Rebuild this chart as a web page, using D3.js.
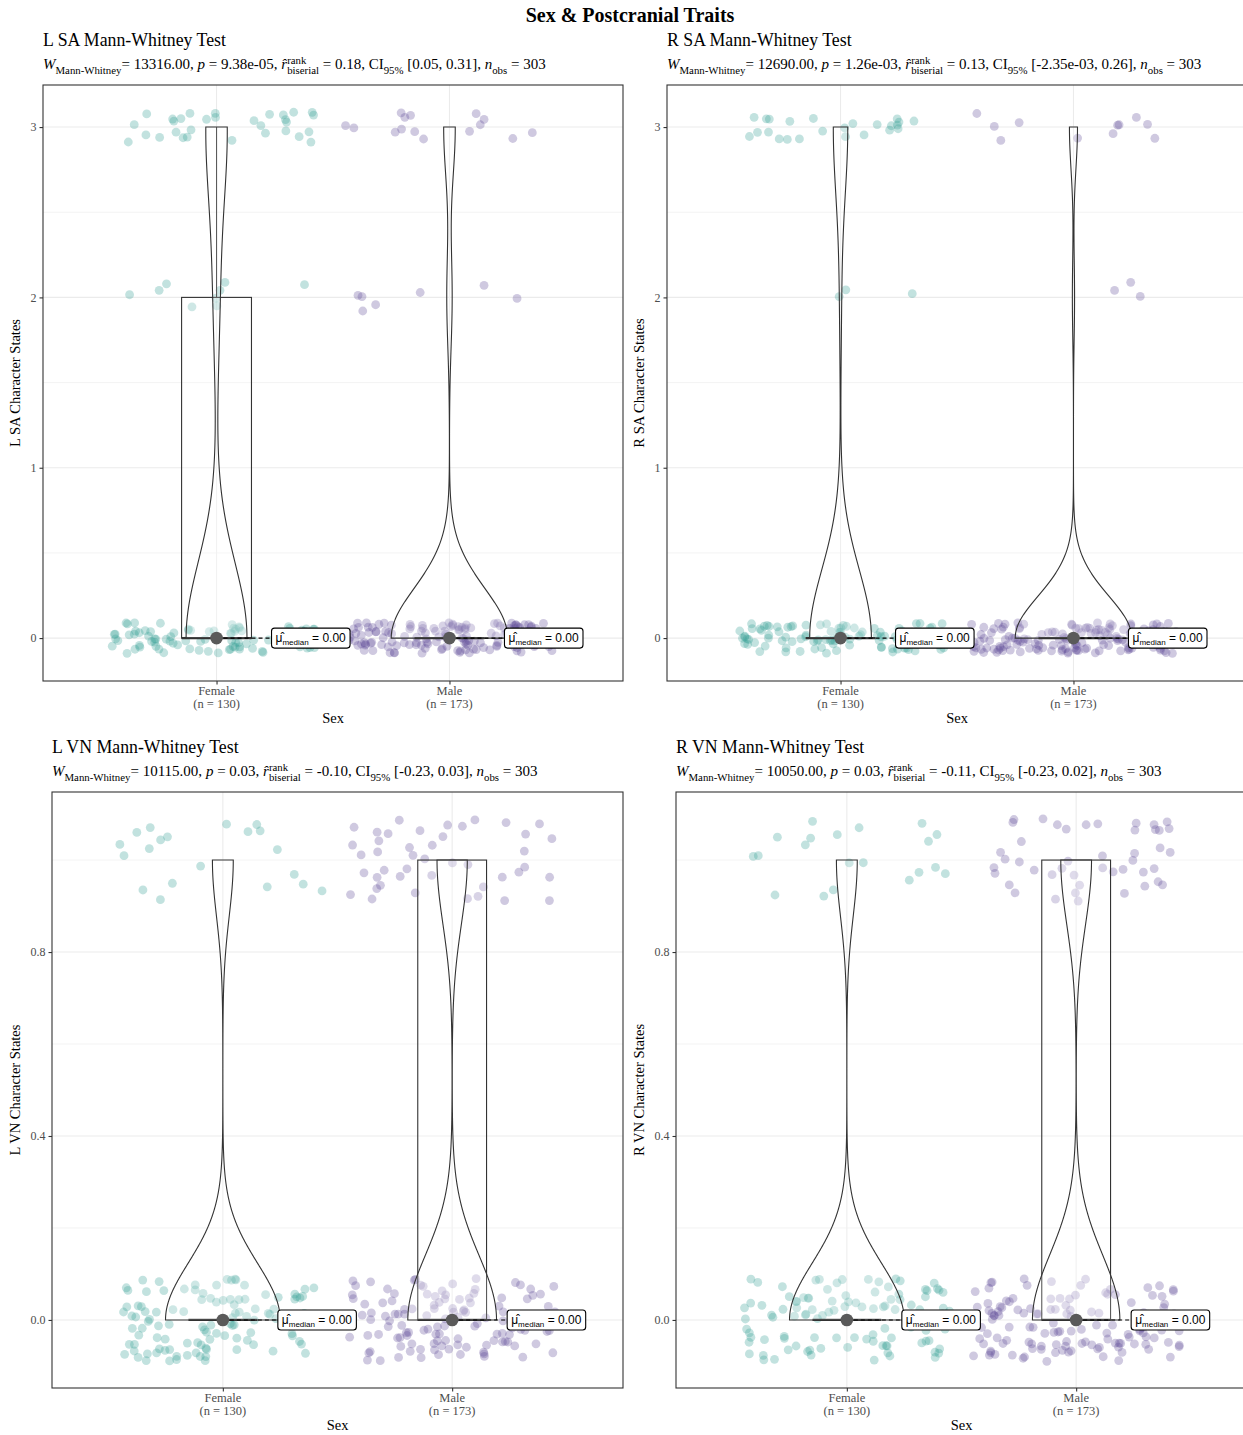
<!DOCTYPE html>
<html>
<head>
<meta charset="utf-8">
<script src="https://cdn.jsdelivr.net/npm/d3@7"></script>
<style>
  body { margin: 0; background: #fff; }
  svg { display: block; }
  svg text { white-space: pre; }
</style>
</head>
<body>
<svg id="chart" width="1243" height="1435"></svg>
<script>
// ---- data ----------------------------------------------------------------
const groups = ["Female", "Male"];
const groupSizes = [130, 173];

// character states and how many individuals of each sex show each state
const saStates = [0, 2, 3];
const lsaFemaleCounts = [90, 9, 31];
const lsaMaleCounts = [151, 7, 15];
const rsaFemaleCounts = [103, 3, 24];
const rsaMaleCounts = [159, 3, 11];

const vnStates = [0, 1];
const lvnFemaleCounts = [110, 20];
const lvnMaleCounts = [129, 44];
const rvnFemaleCounts = [110, 20];
const rvnMaleCounts = [128, 45];

// axis ticks
const saTicks = [0, 1, 2, 3];
const saMinorTicks = [0.5, 1.5, 2.5];
const vnTicks = [0.0, 0.4, 0.8];
const vnMinorTicks = [0.2, 0.6, 1.0];

// Mann-Whitney results printed under each panel title
const lsaStats = { W: "13316.00", p: "9.38e-05", r: "0.18", ci: "[0.05, 0.31]", n: "303" };
const rsaStats = { W: "12690.00", p: "1.26e-03", r: "0.13", ci: "[-2.35e-03, 0.26]", n: "303" };
const lvnStats = { W: "10115.00", p: "0.03", r: "-0.10", ci: "[-0.23, 0.03]", n: "303" };
const rvnStats = { W: "10050.00", p: "0.03", r: "-0.11", ci: "[-0.23, 0.02]", n: "303" };

// ---- styles ----------------------------------------------------------------
const SERIF = "'Liberation Serif','Times New Roman',serif";
const SANS = "'Liberation Sans',Arial,sans-serif";
const groupColors = ["#35a096", "#5f4c98"];
const pointOpacity = 0.3;

const svg = d3.select("#chart");
const defs = svg.append("defs");

svg.append("text")
  .attr("x", 630).attr("y", 22)
  .attr("text-anchor", "middle")
  .attr("font-family", SERIF).attr("font-weight", "bold").attr("font-size", 20)
  .text("Sex & Postcranial Traits");

const panels = [
  { title: "L SA Mann-Whitney Test", yTitle: "L SA Character States", states: saStates,
    counts: [lsaFemaleCounts, lsaMaleCounts], stats: lsaStats, ticks: saTicks, minor: saMinorTicks,
    fmt: d3.format("d"), yDomain: [-0.252, 3.247], frame: { x0: 43, x1: 623, y0: 85, y1: 681 },
    yTitleGap: 23, seed: 1 },
  { title: "R SA Mann-Whitney Test", yTitle: "R SA Character States", states: saStates,
    counts: [rsaFemaleCounts, rsaMaleCounts], stats: rsaStats, ticks: saTicks, minor: saMinorTicks,
    fmt: d3.format("d"), yDomain: [-0.252, 3.247], frame: { x0: 667, x1: 1247, y0: 85, y1: 681 },
    yTitleGap: 23, seed: 2 },
  { title: "L VN Mann-Whitney Test", yTitle: "L VN Character States", states: vnStates,
    counts: [lvnFemaleCounts, lvnMaleCounts], stats: lvnStats, ticks: vnTicks, minor: vnMinorTicks,
    fmt: d3.format(".1f"), yDomain: [-0.148, 1.148], frame: { x0: 52, x1: 623, y0: 792, y1: 1388 },
    yTitleGap: 32, seed: 3 },
  { title: "R VN Mann-Whitney Test", yTitle: "R VN Character States", states: vnStates,
    counts: [rvnFemaleCounts, rvnMaleCounts], stats: rvnStats, ticks: vnTicks, minor: vnMinorTicks,
    fmt: d3.format(".1f"), yDomain: [-0.148, 1.148], frame: { x0: 676, x1: 1247, y0: 792, y1: 1388 },
    yTitleGap: 32, seed: 4 }
];

// deterministic jitter offsets for the point cloud
function hash01(i, seed) {
  const s = Math.sin(i * 127.1 + seed * 311.7) * 43758.5453;
  return s - Math.floor(s);
}

// Silverman's rule of thumb (R's bw.nrd0)
function bwNrd0(values) {
  const sorted = values.slice().sort(d3.ascending);
  const hi = d3.deviation(sorted);
  const iqr = d3.quantileSorted(sorted, 0.75) - d3.quantileSorted(sorted, 0.25);
  let lo = Math.min(hi, iqr / 1.34);
  if (!lo) lo = hi || Math.abs(sorted[0]) || 1;
  return 0.9 * lo * Math.pow(sorted.length, -0.2);
}

function gaussianKde(values, bw, grid) {
  const k = 1 / Math.sqrt(2 * Math.PI);
  return grid.map(t => {
    let s = 0;
    for (const v of values) { const u = (t - v) / bw; s += k * Math.exp(-0.5 * u * u); }
    return s / (values.length * bw);
  });
}

// text made of pieces with sub/superscripts, laid out left to right
function richText(g, x, y, parts, size) {
  let cx = x;
  parts.forEach(pt => {
    if (pt.stack) {
      const a = g.append("text").attr("x", cx).attr("y", y - size * 0.36)
        .attr("font-size", size * 0.72).text(pt.stack[0]);
      const b = g.append("text").attr("x", cx).attr("y", y + size * 0.32)
        .attr("font-size", size * 0.72).text(pt.stack[1]);
      cx += Math.max(a.node().getComputedTextLength(), b.node().getComputedTextLength());
    } else {
      const t = g.append("text").attr("x", cx)
        .attr("y", y + (pt.sub ? size * 0.3 : 0))
        .attr("font-size", pt.sub ? size * 0.72 : size)
        .attr("font-style", pt.it ? "italic" : null)
        .text(pt.t);
      cx += t.node().getComputedTextLength();
    }
  });
  return cx;
}

panels.forEach((p, pi) => {
  const f = p.frame;
  const x = d3.scaleLinear().domain([0.255, 2.745]).range([f.x0, f.x1]);
  const y = d3.scaleLinear().domain(p.yDomain).range([f.y1, f.y0]);

  const clipId = "panel-clip-" + pi;
  defs.append("clipPath").attr("id", clipId).append("rect")
    .attr("x", f.x0).attr("y", f.y0).attr("width", f.x1 - f.x0).attr("height", f.y1 - f.y0);

  const g = svg.append("g");
  const plot = g.append("g").attr("clip-path", `url(#${clipId})`);

  // grid
  plot.selectAll(".minor").data(p.minor).join("line")
    .attr("x1", f.x0).attr("x2", f.x1).attr("y1", d => y(d)).attr("y2", d => y(d))
    .attr("stroke", "#ebebeb").attr("stroke-width", 0.6);
  plot.selectAll(".major").data(p.ticks).join("line")
    .attr("x1", f.x0).attr("x2", f.x1).attr("y1", d => y(d)).attr("y2", d => y(d))
    .attr("stroke", "#ebebeb").attr("stroke-width", 1.1);
  plot.selectAll(".vmajor").data([1, 2]).join("line")
    .attr("x1", d => x(d)).attr("x2", d => x(d)).attr("y1", f.y0).attr("y2", f.y1)
    .attr("stroke", "#ebebeb").attr("stroke-width", 1.1);

  // raw observations per group
  const groupValues = p.counts.map(c => p.states.flatMap((s, k) => Array(c[k]).fill(s)));

  // jittered points
  groupValues.forEach((vals, gi) => {
    const seed = p.seed * 10 + gi;
    plot.append("g").selectAll("circle").data(vals).join("circle")
      .attr("cx", (d, i) => x(gi + 1 + (hash01(i, seed) - 0.5) * 0.9))
      .attr("cy", (d, i) => y(d + (hash01(i, seed + 0.37) - 0.5) * 0.18))
      .attr("r", 4.4)
      .attr("fill", groupColors[gi])
      .attr("fill-opacity", pointOpacity);
  });

  // boxplots
  groupValues.forEach((vals, gi) => {
    const s = vals.slice().sort(d3.ascending);
    const q1 = d3.quantileSorted(s, 0.25), med = d3.quantileSorted(s, 0.5), q3 = d3.quantileSorted(s, 0.75);
    const iqr = q3 - q1;
    const upper = d3.max(s.filter(v => v <= q3 + 1.5 * iqr));
    const lower = d3.min(s.filter(v => v >= q1 - 1.5 * iqr));
    const cx = gi + 1;
    const bg = plot.append("g").attr("stroke", "#333").attr("fill", "none");
    bg.append("line").attr("x1", x(cx)).attr("x2", x(cx)).attr("y1", y(q3)).attr("y2", y(upper)).attr("stroke-width", 1.1);
    bg.append("line").attr("x1", x(cx)).attr("x2", x(cx)).attr("y1", y(q1)).attr("y2", y(lower)).attr("stroke-width", 1.1);
    bg.append("rect").attr("x", x(cx - 0.15)).attr("width", x(cx + 0.15) - x(cx - 0.15))
      .attr("y", y(q3)).attr("height", y(q1) - y(q3))
      .attr("fill", "#fff").attr("fill-opacity", 0.2).attr("stroke-width", 1.1);
    bg.append("line").attr("x1", x(cx - 0.15)).attr("x2", x(cx + 0.15)).attr("y1", y(med)).attr("y2", y(med))
      .attr("stroke-width", 2.3);
  });

  // violins (area-scaled, trimmed to the data range)
  const dens = groupValues.map(vals => {
    const bw = bwNrd0(vals);
    const lo = d3.min(vals), hi = d3.max(vals);
    const grid = d3.range(512).map(i => lo + (hi - lo) * i / 511);
    return { grid, d: gaussianKde(vals, bw, grid) };
  });
  const maxD = d3.max(dens, o => d3.max(o.d));
  dens.forEach((o, gi) => {
    const cx = gi + 1;
    const left = o.grid.map((t, i) => [x(cx - 0.25 * o.d[i] / maxD), y(t)]);
    const right = o.grid.map((t, i) => [x(cx + 0.25 * o.d[i] / maxD), y(t)]).reverse();
    plot.append("path")
      .attr("d", d3.line()(left.concat(right)) + "Z")
      .attr("fill", "#fff").attr("fill-opacity", 0.2)
      .attr("stroke", "#333").attr("stroke-width", 1.1);
  });

  // median marker with its label
  groupValues.forEach((vals, gi) => {
    const med = d3.median(vals);
    const cx = x(gi + 1), cy = y(med);
    const lx = cx + 55;
    plot.append("line").attr("x1", cx).attr("x2", lx).attr("y1", cy).attr("y2", cy)
      .attr("stroke", "#000").attr("stroke-width", 1.1).attr("stroke-dasharray", "4,3");
    plot.append("circle").attr("cx", cx).attr("cy", cy).attr("r", 6.3).attr("fill", "#5a5a5a");

    const lg = plot.append("g").attr("font-family", SANS);
    const rect = lg.append("rect");
    const t = lg.append("text").attr("x", lx + 4).attr("y", cy + 4).attr("font-size", 12);
    t.append("tspan").text("\u03bc\u0302");
    t.append("tspan").attr("font-size", 8).attr("dy", 3).text("median");
    t.append("tspan").attr("dy", -3).text(" = " + d3.format(".2f")(med));
    const bb = t.node().getBBox();
    rect.attr("x", lx).attr("y", cy - 10).attr("width", bb.width + 8).attr("height", 20)
      .attr("rx", 3).attr("fill", "#fff").attr("stroke", "#000").attr("stroke-width", 1.1);
  });

  // panel border
  g.append("rect").attr("x", f.x0).attr("y", f.y0).attr("width", f.x1 - f.x0).attr("height", f.y1 - f.y0)
    .attr("fill", "none").attr("stroke", "#333").attr("stroke-width", 1.1);

  // axes
  const yAxis = g.append("g").attr("transform", `translate(${f.x0},0)`)
    .call(d3.axisLeft(y).tickValues(p.ticks).tickFormat(p.fmt).tickSize(3.5).tickPadding(3));
  const xAxis = g.append("g").attr("transform", `translate(0,${f.y1})`)
    .call(d3.axisBottom(x).tickValues([1, 2]).tickFormat(() => "").tickSize(3.5));
  [yAxis, xAxis].forEach(a => {
    a.select(".domain").remove();
    a.selectAll(".tick line").attr("stroke", "#333").attr("stroke-width", 1.1);
    a.selectAll(".tick text").attr("fill", "#4d4d4d").attr("font-family", SERIF).attr("font-size", 12);
  });
  groups.forEach((name, gi) => {
    const tt = g.append("text").attr("x", x(gi + 1)).attr("y", f.y1 + 14)
      .attr("text-anchor", "middle").attr("font-family", SERIF).attr("font-size", 12.5).attr("fill", "#4d4d4d");
    tt.append("tspan").attr("x", x(gi + 1)).text(name);
    tt.append("tspan").attr("x", x(gi + 1)).attr("dy", 13).text(`(n = ${groupSizes[gi]})`);
  });

  // axis titles
  g.append("text").attr("x", (f.x0 + f.x1) / 2).attr("y", f.y1 + 42)
    .attr("text-anchor", "middle").attr("font-family", SERIF).attr("font-size", 14.5).text("Sex");
  g.append("text")
    .attr("transform", `translate(${f.x0 - p.yTitleGap},${(f.y0 + f.y1) / 2}) rotate(-90)`)
    .attr("text-anchor", "middle").attr("font-family", SERIF).attr("font-size", 14.5).text(p.yTitle);

  // title and statistics line
  g.append("text").attr("x", f.x0).attr("y", f.y0 - 39)
    .attr("font-family", SERIF).attr("font-size", 17.8).text(p.title);
  const sg = g.append("g").attr("font-family", SERIF);
  const s = p.stats;
  richText(sg, f.x0, f.y0 - 16, [
    { t: "W", it: true }, { t: "Mann-Whitney", sub: true }, { t: "= " + s.W + ", " },
    { t: "p", it: true }, { t: " = " + s.p + ", " },
    { t: "r\u0302", it: true }, { stack: ["rank", "biserial"] }, { t: " = " + s.r + ", CI" },
    { t: "95%", sub: true }, { t: " " + s.ci + ", " },
    { t: "n", it: true }, { t: "obs", sub: true }, { t: " = " + s.n }
  ], 15);
});
</script>
</body>
</html>
